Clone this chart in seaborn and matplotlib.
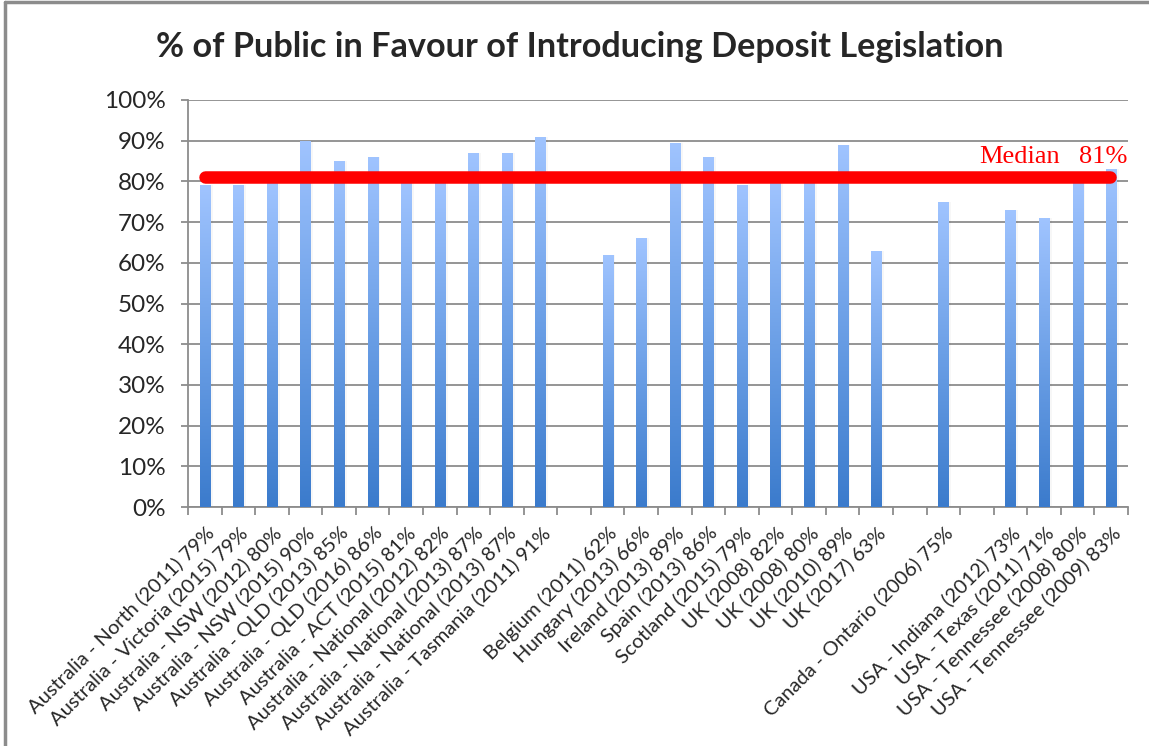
import numpy as np
import pandas as pd
import seaborn as sns
import matplotlib.pyplot as plt
from matplotlib.colors import LinearSegmentedColormap
from matplotlib.lines import Line2D

sns.set_theme()
sns.set_style('white')
plt.rcParams['font.family'] = ['Lato', 'DejaVu Sans']

# categories (empty strings are the gaps between country groups)
labels = [
    'Australia - North (2011) 79%', 'Australia - Victoria (2015) 79%',
    'Australia - NSW (2012) 80%', 'Australia - NSW (2015) 90%',
    'Australia - QLD (2013) 85%', 'Australia - QLD (2016) 86%',
    'Australia - ACT (2015) 81%', 'Australia - National (2012) 82%',
    'Australia - National (2013) 87%', 'Australia - National (2013) 87%',
    'Australia - Tasmania (2011) 91%', '',
    'Belgium (2011) 62%', 'Hungary (2013) 66%', 'Ireland (2013) 89%',
    'Spain (2013) 86%', 'Scotland (2015) 79%', 'UK (2008) 82%',
    'UK (2008) 80%', 'UK (2010) 89%', 'UK (2017) 63%', '',
    'Canada - Ontario (2006) 75%', '',
    'USA - Indiana (2012) 73%', 'USA - Texas (2011) 71%',
    'USA - Tennessee (2008) 80%', 'USA - Tennessee (2009) 83%',
]
values = [79, 79, 80, 90, 85, 86, 80, 80, 87, 87, 91, np.nan,
          62, 66, 89.5, 86, 79, 80, 80, 89, 63, np.nan,
          75, np.nan,
          73, 71, 80, 83]
median = 81

df = pd.DataFrame({'pos': range(len(labels)), 'value': values})

fig = plt.figure(figsize=(11.49, 7.46), dpi=100)
ax = fig.add_axes([188 / 1149, 1 - 507 / 746, 940 / 1149, 407 / 746])

sns.barplot(data=df, x='pos', y='value', ax=ax, width=0.3,
            color='#5b8fd6', native_scale=True, linewidth=0, zorder=3)

# vertical gradient fill on each bar
cmap = LinearSegmentedColormap.from_list('bar', ['#3b7bcc', '#6b9fe6', '#a0c4ff'])
grad = np.linspace(0, 1, 256).reshape(-1, 1)
for p in list(ax.patches):
    h = p.get_height()
    if not np.isfinite(h) or h <= 0:
        continue
    x0 = p.get_x()
    w = p.get_width()
    # faint shadow
    ax.bar(x0 + w / 2 + 0.04, h, width=w + 0.08, color='#000000', alpha=0.03,
           linewidth=0, zorder=2)
    im = ax.imshow(grad, extent=[x0, x0 + w, 0, h], origin='lower',
                   cmap=cmap, aspect='auto', zorder=4)
    im.set_clip_path(p)
    p.set_alpha(0)

ax.set_xlim(-0.5, len(labels) - 0.5)
ax.set_ylim(0, 100)

# median line
ax.plot([0, 26.95], [median, median], color='#ff0000', lw=9,
        solid_capstyle='round', zorder=6)
ax.text(25.48, median + 2.2, 'Median', color='#ff0000', fontsize=19,
        family='Liberation Serif', ha='right', va='bottom', zorder=7)
ax.text(27.47, median + 2.2, '81%', color='#ff0000', fontsize=19,
        family='Liberation Serif', ha='right', va='bottom', zorder=7)

# axes styling
ax.set_yticks(range(0, 101, 10))
ax.set_yticklabels([f'{v}%' for v in range(0, 101, 10)], fontsize=17.5)
ax.yaxis.grid(True, color='#8c8c8c', lw=1.3, zorder=0)
ax.set_axisbelow(True)
ax.tick_params(axis='y', length=5, color='#8c8c8c', width=1.3, left=True, pad=11)

ax.set_xticks(range(len(labels)))
ax.set_xticklabels(labels, rotation=45, ha='right', rotation_mode='anchor',
                   fontsize=14.5)
ax.tick_params(axis='x', which='major', length=0, pad=12)
ax.set_xticks(np.arange(-0.5, len(labels), 1), minor=True)
ax.tick_params(axis='x', which='minor', length=6, color='#8c8c8c', width=1.3,
               bottom=True)
ax.set_xlabel('')
ax.set_ylabel('')

for side in ['top', 'right']:
    ax.spines[side].set_visible(False)
for side in ['left', 'bottom']:
    ax.spines[side].set_color('#8c8c8c')
    ax.spines[side].set_linewidth(1.3)

fig.text(580 / 1149, 1 - 47 / 746, '% of Public in Favour of Introducing Deposit Legislation',
         ha='center', va='center', fontsize=24.7, fontweight='bold')

# chart border (top and left visible)
fig.add_artist(Line2D([4.5 / 1149, 4.5 / 1149], [0, 1 - 2 / 746], color='#8c8c8c', lw=2.5))
fig.add_artist(Line2D([4.5 / 1149, 1], [1 - 2 / 746, 1 - 2 / 746], color='#8c8c8c', lw=2.5))

fig.savefig('out.png', dpi=100)
